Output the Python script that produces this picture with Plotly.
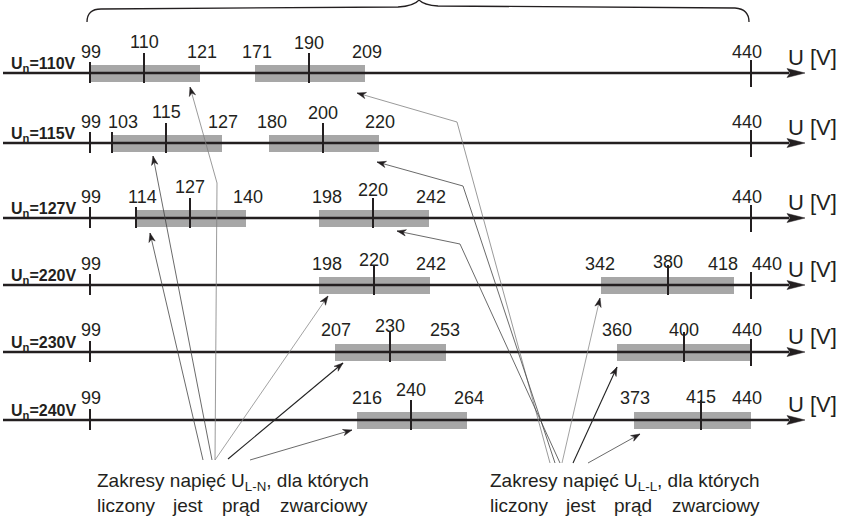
import math

import plotly.graph_objects as go

# ---- data: nominal voltages and short-circuit voltage ranges ----------
nominal = [110, 115, 127, 220, 230, 240]
u_min = 99
u_max = 440

ln_low = [99, 103, 114, 198, 207, 216]
ln_mid = [110, 115, 127, 220, 230, 240]
ln_high = [121, 127, 140, 242, 253, 264]

ll_low = [171, 180, 198, 342, 360, 373]
ll_mid = [190, 200, 220, 380, 400, 415]
ll_high = [209, 220, 242, 418, 440, 440]

unit_label = "U [V]"
note_subs = ["L-N", "L-L"]
note_line1 = "Zakresy napięć U<sub>{}</sub>, dla których"
note_words = ["liczony", "jest", "prąd", "zwarciowy"]

# ---- schematic layout (the drawing is not to scale) -------------------
W, H = 843, 521
row_y = [73, 143, 218, 285, 352, 420]
line_x0, arrow_base, arrow_tip = 3, 787, 805
min_x, max_x = 90, 751
ln_bar_x = [(91, 200), (112, 222), (136, 246), (319, 430), (335, 446), (357, 467)]
ll_bar_x = [(255, 365), (269, 379), (319, 429), (601, 734), (617, 751), (634, 751)]
ln_mid_x = [144, 166, 190, 374, 390, 411]
ll_mid_x = [309, 323, 373, 668, 684, 701]
ln_low_tick = [False, True, True, False, False, False]
max_tick = [True, True, True, True, True, False]

lab_ln_low = [None, 123, 142, 327, 336, 367]
lab_ln_high = [202, 223, 248, 431, 445, 469]
lab_ll_low = [257, 272, 327, 600, 617, 635]
lab_ll_high = [367, 380, 431, 723, None, None]
lab_max = [747, 747, 747, 767, 747, 747]
dy_ln_mid = [-31, -31, -31, -25, -26, -30]
dy_ll_mid = [-30, -30, -28, -23, -22, -23]
dy_side = [-21, -21, -21, -21, -22, -22]

INK = "#231f20"
BAR = "#a7a7a7"
FONT = "Liberation Sans, Arial, sans-serif"

# pointer lines: polyline ending at the arrow tip
ln_pointers = [
    [(215, 460), (217, 183), (190, 87)],
    [(212, 460), (153, 156)],
    [(203, 460), (150, 233)],
    [(215, 460), (328, 296)],
    [(228, 459), (343, 363)],
    [(250, 460), (352, 430)],
]
ll_pointers = [
    [(550, 463), (457, 122), (357, 93)],
    [(555, 463), (463, 186), (377, 162)],
    [(560, 463), (460, 244), (397, 231)],
    [(562, 463), (600, 298)],
    [(573, 463), (617, 367)],
    [(588, 463), (640, 434)],
]
pointer_colors = ["#808080", "#444444", "#444444", "#8a8a8a", "#222222", "#444444"]

shapes = []
annotations = []


def label(x, y, text, size=18, **kw):
    annotations.append(dict(
        x=x, y=y, text=text, showarrow=False, xanchor=kw.pop("xanchor", "center"),
        yanchor=kw.pop("yanchor", "middle"),
        font=dict(family=FONT, size=size, color=INK), **kw))


def vtick(x, y, up, down):
    shapes.append(dict(type="line", x0=x, x1=x, y0=y - up, y1=y + down,
                       line=dict(color=INK, width=2)))


def arrowhead(tail, tip, color, length=9, half=3.2):
    ux, uy = tip[0] - tail[0], tip[1] - tail[1]
    n = math.hypot(ux, uy)
    ux, uy = ux / n, uy / n
    px, py = -uy, ux
    bx, by = tip[0] - length * ux, tip[1] - length * uy
    nx, ny = tip[0] - 0.7 * length * ux, tip[1] - 0.7 * length * uy
    path = (f"M{tip[0]},{tip[1]} L{bx + half * px:.2f},{by + half * py:.2f} "
            f"L{nx:.2f},{ny:.2f} L{bx - half * px:.2f},{by - half * py:.2f} Z")
    shapes.append(dict(type="path", path=path, fillcolor=color,
                       line=dict(color=color, width=0.5)))


for i, y in enumerate(row_y):
    # grey ranges first so the axis line sits on top
    for x0, x1 in (ln_bar_x[i], ll_bar_x[i]):
        shapes.append(dict(type="rect", x0=x0, x1=x1, y0=y - 8, y1=y + 9,
                           fillcolor=BAR, line=dict(width=0), layer="below"))
    shapes.append(dict(type="line", x0=line_x0, x1=arrow_base + 2, y0=y, y1=y,
                       line=dict(color=INK, width=2.6)))
    shapes.append(dict(type="path",
                       path=f"M{arrow_base},{y - 4.5} L{arrow_tip},{y} L{arrow_base},{y + 4.5} L{arrow_base + 3},{y} Z",
                       fillcolor=INK, line=dict(color=INK, width=0.5)))

    vtick(min_x, y, 11, 10)
    if ln_low_tick[i]:
        vtick(ln_bar_x[i][0], y, 11, 10)
    vtick(ln_mid_x[i], y, 20, 10)
    vtick(ll_mid_x[i], y, 20, 10)
    if max_tick[i]:
        vtick(max_x, y, 13, 14)

    label(9, y - 9, f"<b>U<sub>n</sub>={nominal[i]}V</b>", size=16, xanchor="left")
    label(91, y + dy_side[i], str(u_min))
    if lab_ln_low[i] is not None:
        label(lab_ln_low[i], y + dy_side[i], str(ln_low[i]))
    label(ln_mid_x[i], y + dy_ln_mid[i], str(ln_mid[i]))
    label(lab_ln_high[i], y + dy_side[i], str(ln_high[i]))
    label(lab_ll_low[i], y + dy_side[i], str(ll_low[i]))
    label(ll_mid_x[i], y + dy_ll_mid[i], str(ll_mid[i]))
    if lab_ll_high[i] is not None:
        label(lab_ll_high[i], y + dy_side[i], str(ll_high[i]))
    label(lab_max[i], y + dy_side[i], str(u_max))
    label(812, y - 16, unit_label, size=22)

# pointer lines with arrowheads
for group in (ln_pointers, ll_pointers):
    for k, pts in enumerate(group):
        col = pointer_colors[k]
        path = "M" + " L".join(f"{px},{py}" for px, py in pts)
        shapes.append(dict(type="path", path=path,
                           line=dict(color=col, width=1.1 if k == 4 else 0.8)))
        arrowhead(pts[-2], pts[-1], INK)

# notes under the two bundles
note_left = [95, 488]
word_x = [[95, 170, 220, 278], [488, 563, 612, 670]]
for j, sub in enumerate(note_subs):
    label(note_left[j], 482, note_line1.format(sub), size=19, xanchor="left")
    for wx, word in zip(word_x[j], note_words):
        label(wx, 505, word, size=19, xanchor="left")

# brace over the whole diagram
shapes.append(dict(
    type="path",
    path="M87,22 Q87,9 101,9 L398,7 Q414,6 419,0 Q424,5 438,6 L735,8 Q749,9 749,22",
    line=dict(color=INK, width=1.3)))

fig = go.Figure()
fig.update_layout(
    width=W, height=H,
    margin=dict(l=0, r=0, t=0, b=0),
    paper_bgcolor="white", plot_bgcolor="white",
    xaxis=dict(range=[0, W], visible=False, fixedrange=True),
    yaxis=dict(range=[H, 0], visible=False, fixedrange=True),
    shapes=shapes, annotations=annotations,
    showlegend=False,
)
fig.write_html("out.html", config={"displayModeBar": False},
               post_script="document.body.style.margin='0';")
